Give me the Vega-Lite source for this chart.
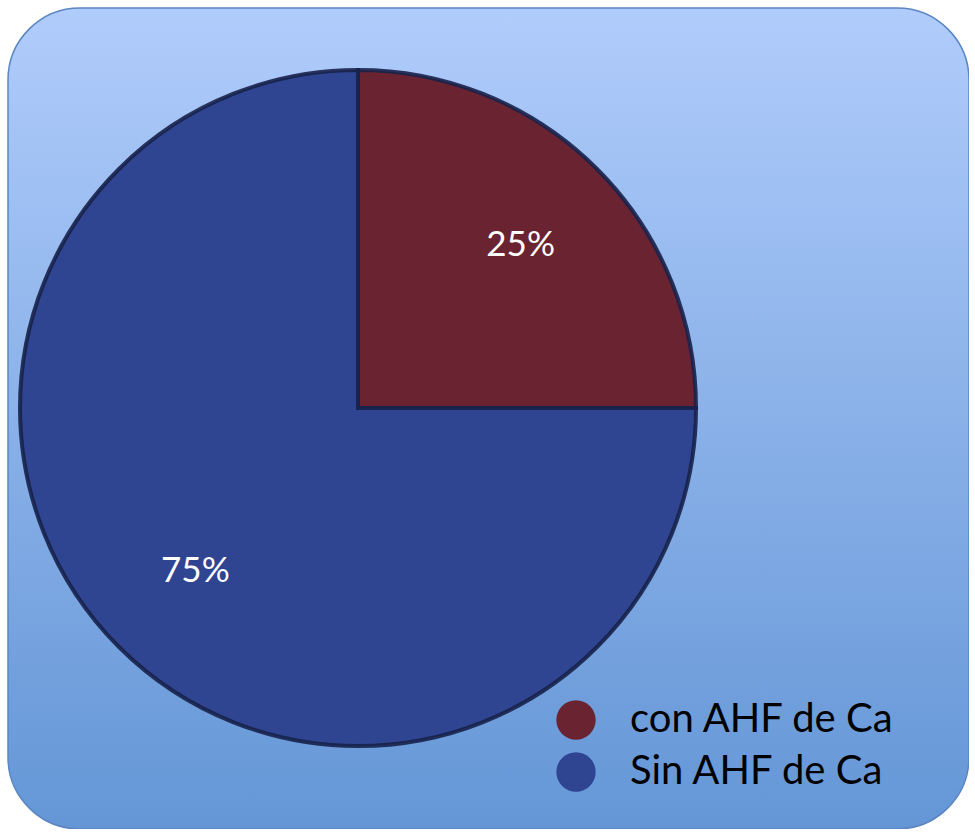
{
  "$schema": "https://vega.github.io/schema/vega-lite/v6.json",
  "autosize": {"type": "none"},
  "padding": {"left": 8, "top": 8, "right": 0, "bottom": 0},
  "width": 961,
  "height": 821,
  "background": "#ffffff",
  "config": {
    "view": {
      "fill": {"gradient": "linear", "x1": 0, "y1": 0, "x2": 0, "y2": 1, "stops": [{"offset": 0, "color": "#b0ccfb"}, {"offset": 1, "color": "#6496d6"}]},
      "stroke": "#5b86c2",
      "strokeWidth": 1.5,
      "cornerRadius": 72
    }
  },
  "data": {
    "values": [
      {"categoria": "con AHF de Ca", "valor": 25, "orden": 1, "etiqueta": "25%"},
      {"categoria": "Sin AHF de Ca", "valor": 75, "orden": 2, "etiqueta": "75%"}
    ]
  },
  "encoding": {
    "theta": {"field": "valor", "type": "quantitative", "stack": true},
    "order": {"field": "orden", "type": "quantitative"},
    "x": {"value": 350},
    "y": {"value": 400}
  },
  "layer": [
    {
      "mark": {"type": "arc", "outerRadius": 338, "stroke": "#17214a", "strokeWidth": 4, "strokeOpacity": 0.9},
      "encoding": {
        "color": {
          "field": "categoria",
          "type": "nominal",
          "scale": {"domain": ["con AHF de Ca", "Sin AHF de Ca"], "range": ["#6a2431", "#2f4591"]},
          "legend": {
            "title": null,
            "orient": "none",
            "legendX": 548,
            "legendY": 692,
            "symbolType": "circle",
            "symbolSize": 1550,
            "symbolStrokeWidth": 0,
            "labelFont": "Lato",
            "labelFontSize": 40,
            "labelColor": "#000000",
            "labelOffset": 34,
            "rowPadding": 12,
            "labelLimit": 400
          }
        }
      }
    },
    {
      "mark": {"type": "text", "radius": 230, "font": "Lato", "fontSize": 35, "fill": "#ffffff"},
      "encoding": {
        "detail": {"field": "categoria", "type": "nominal"},
        "text": {"field": "etiqueta", "type": "nominal"}
      }
    }
  ]
}
